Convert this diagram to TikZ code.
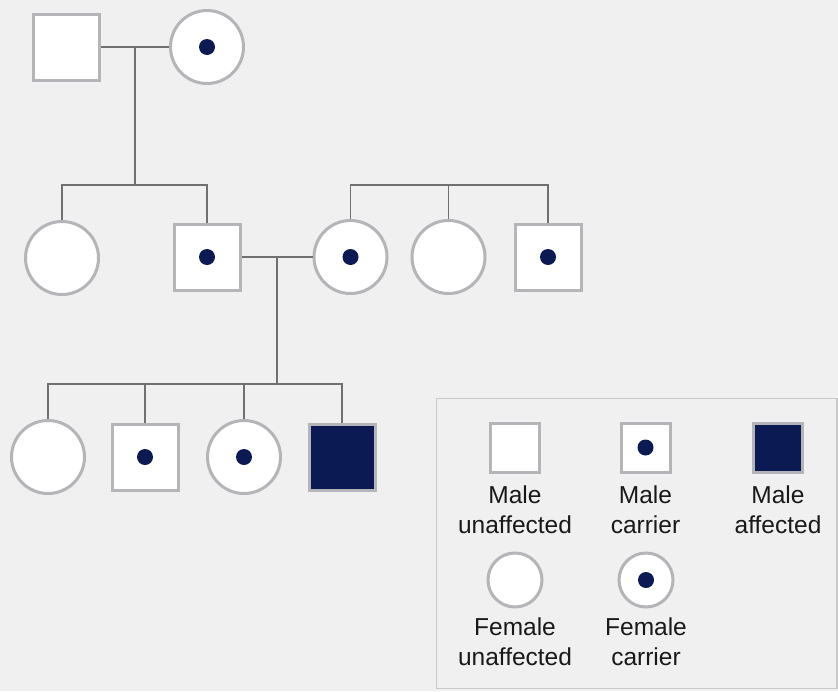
\documentclass[tikz,border=0pt]{standalone}
\usepackage{fontspec}
\setmainfont{Liberation Sans}
\usetikzlibrary{calc}

\definecolor{pedbg}{HTML}{F0F0F0}
\definecolor{pedrim}{HTML}{B4B4B9}
\definecolor{pedline}{HTML}{707070}
\definecolor{pednavy}{HTML}{0B1A52}
\definecolor{keyframe}{HTML}{C9C9C9}

\tikzset{
  male/.style={draw=pedrim, line width=3pt, fill=white, rectangle, minimum size=66pt, inner sep=0pt},
  female/.style={draw=pedrim, line width=3pt, fill=white, circle, minimum size=73pt, inner sep=0pt},
  affected/.style={fill=pednavy},
  carrier/.style={path picture={\fill[pednavy] (path picture bounding box.center) circle (8pt);}},
  keysize/.style={minimum size=49pt},
  keysizef/.style={minimum size=54pt},
  link/.style={draw=pedline, line width=1.8pt},
  keytext/.style={align=center, font=\fontsize{24.5}{30}\selectfont, text=black!90}
}

\begin{document}
\begin{tikzpicture}[x=1pt, y=-1pt]
  \useasboundingbox[fill=pedbg] (0,0) rectangle (838,691);

  % first generation
  \node[male] (gfather) at (66.5,47) {};
  \node[female, carrier] (gmother) at (207,47) {};

  % second generation
  \node[female] (aunt) at (62,258) {};
  \node[male, carrier] (father) at (207,257) {};
  \node[female, carrier] (mother) at (350.5,257) {};
  \node[female] (maunt) at (448.5,257) {};
  \node[male, carrier] (muncle) at (548,257) {};

  % third generation
  \node[female] (kid1) at (48,457) {};
  \node[male, carrier] (kid2) at (145,457) {};
  \node[female, carrier] (kid3) at (244,457) {};
  \node[male, affected] (kid4) at (342,457) {};

  % couples and sibships
  \coordinate (mate1) at ($(gfather.east)!0.5!(gmother.west)$);
  \coordinate (sib1) at (mate1 |- 0,185);
  \draw[link] (gfather.east) -- (gmother.west);
  \draw[link] (mate1) -- (sib1);
  \draw[link] (aunt.north) |- (sib1) -| (father.north);

  \coordinate (sib2) at (maunt.north |- 0,185);
  \draw[link] (mother.north) |- (sib2) -| (muncle.north);
  \draw[link] (maunt.north) -- (sib2);

  \coordinate (mate2) at ($(father.east)!0.5!(mother.west)$);
  \coordinate (sib3) at (mate2 |- 0,384);
  \draw[link] (father.east) -- (mother.west);
  \draw[link] (mate2) -- (sib3);
  \draw[link] (kid1.north) |- (sib3) -| (kid4.north);
  \draw[link] (kid2.north) -- (kid2.north |- sib3);
  \draw[link] (kid3.north) -- (kid3.north |- sib3);

  % key
  \draw[keyframe, line width=1.2pt] (436.5,398.5) rectangle (837,688.5);
  \node[male, keysize] (kmu) at (515,447.5) {};
  \node[male, keysize, carrier] (kmc) at (645.5,447.5) {};
  \node[male, keysize, affected] (kma) at (778,447.5) {};
  \node[female, keysizef] (kfu) at (515,580) {};
  \node[female, keysizef, carrier] (kfc) at (646,580) {};

  \node[keytext] (tmu) at (515,510) {Male\\unaffected};
  \node[keytext] (tmc) at (645.5,510) {Male\\carrier};
  \node[keytext] (tma) at (778,510) {Male\\affected};
  \node[keytext] (tfu) at (515,642) {Female\\unaffected};
  \node[keytext] (tfc) at (646,642) {Female\\carrier};
\end{tikzpicture}
\end{document}
